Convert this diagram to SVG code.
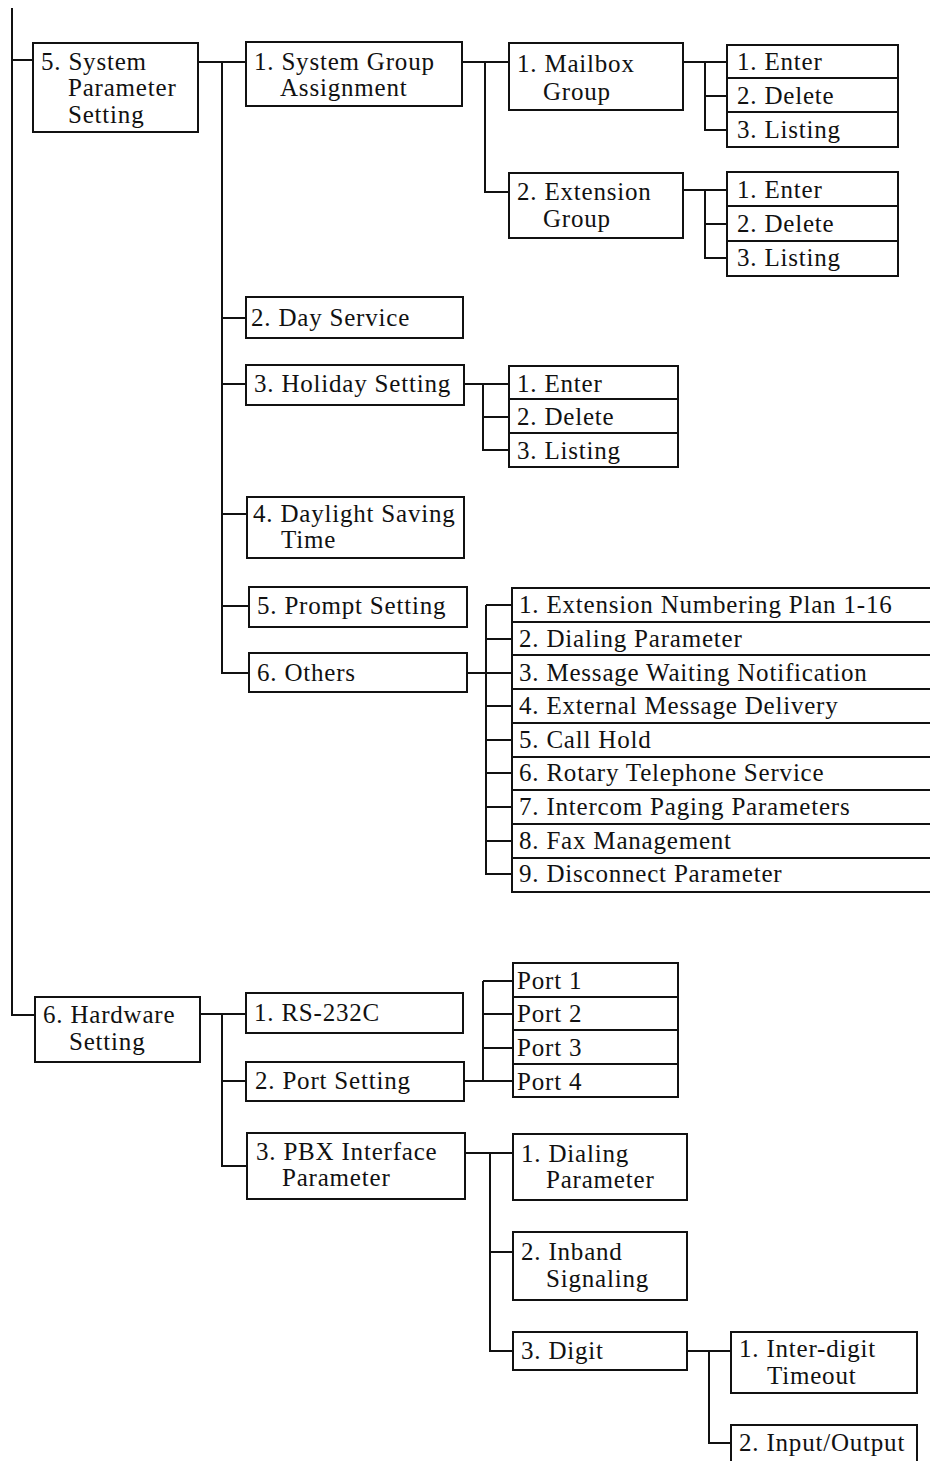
<svg xmlns="http://www.w3.org/2000/svg" width="930" height="1461" viewBox="0 0 930 1461">
<style>
rect{fill:#fff;stroke:#111;stroke-width:2}
text{font-family:"Liberation Serif","Times New Roman",serif;font-size:25px;fill:#111;letter-spacing:0.8px}
#connectors path{fill:none;stroke:#111;stroke-width:2}
</style>
<rect x="0" y="0" width="930" height="1461" style="stroke:none"/>
<g id="connectors">
<path d="M12 8V1015H35M12 60H33"/>
<path d="M198 62H246M222 62V673H249M222 318H246M222 384H246M222 514H247M222 606H249"/>
<path d="M462 62H509M485 62V192H509"/>
<path d="M683 62H727M705 62V130H727M705 96H727"/>
<path d="M683 190H727M705 190V258H727M705 224H727"/>
<path d="M464 384H509M483 384V450H509M483 417H509"/>
<path d="M467 673H512M486 605V874H512M486 605H512M486 639H512M486 706H512M486 740H512M486 773H512M486 807H512M486 841H512"/>
<path d="M200 1014H246M222 1014V1166H247M222 1081H246"/>
<path d="M464 1081H513M483 981V1081M483 981H513M483 1014H513M483 1048H513"/>
<path d="M465 1153H513M490 1153V1351H513M490 1252H513"/>
<path d="M687 1351H731M709 1351V1443H731"/>
</g>
<g id="n5"><rect x="33" y="43" width="165" height="89"/><text x="41" y="70">5. System</text><text x="68" y="96">Parameter</text><text x="68" y="123">Setting</text></g>
<g id="n51"><rect x="246" y="42" width="216" height="64"/><text x="254" y="70">1. System Group</text><text x="280" y="96">Assignment</text></g>
<g id="n511"><rect x="509" y="43" width="174" height="67"/><text x="517" y="72">1. Mailbox</text><text x="543" y="100">Group</text></g>
<g id="n5111"><rect x="727" y="45" width="171" height="33"/><text x="737" y="70">1. Enter</text></g>
<g id="n5112"><rect x="727" y="78" width="171" height="34"/><text x="737" y="104">2. Delete</text></g>
<g id="n5113"><rect x="727" y="112" width="171" height="35"/><text x="737" y="138">3. Listing</text></g>
<g id="n512"><rect x="509" y="173" width="174" height="65"/><text x="517" y="200">2. Extension</text><text x="543" y="227">Group</text></g>
<g id="n5121"><rect x="727" y="172" width="171" height="34"/><text x="737" y="198">1. Enter</text></g>
<g id="n5122"><rect x="727" y="206" width="171" height="35"/><text x="737" y="232">2. Delete</text></g>
<g id="n5123"><rect x="727" y="241" width="171" height="35"/><text x="737" y="266">3. Listing</text></g>
<g id="n52"><rect x="246" y="297" width="217" height="41"/><text x="251" y="326">2. Day Service</text></g>
<g id="n53"><rect x="246" y="365" width="218" height="40"/><text x="254" y="392">3. Holiday Setting</text></g>
<g id="n531"><rect x="509" y="366" width="169" height="33"/><text x="517" y="392">1. Enter</text></g>
<g id="n532"><rect x="509" y="399" width="169" height="34"/><text x="517" y="425">2. Delete</text></g>
<g id="n533"><rect x="509" y="433" width="169" height="34"/><text x="517" y="459">3. Listing</text></g>
<g id="n54"><rect x="247" y="497" width="217" height="61"/><text x="253" y="522">4. Daylight Saving</text><text x="281" y="548">Time</text></g>
<g id="n55"><rect x="249" y="587" width="218" height="40"/><text x="257" y="614">5. Prompt Setting</text></g>
<g id="n56"><rect x="249" y="653" width="218" height="39"/><text x="257" y="681">6. Others</text></g>
<g id="n561"><rect x="512" y="588" width="425" height="34"/><text x="519" y="613">1. Extension Numbering Plan 1-16</text></g>
<g id="n562"><rect x="512" y="622" width="425" height="33"/><text x="519" y="647">2. Dialing Parameter</text></g>
<g id="n563"><rect x="512" y="655" width="425" height="34"/><text x="519" y="681">3. Message Waiting Notification</text></g>
<g id="n564"><rect x="512" y="689" width="425" height="34"/><text x="519" y="714">4. External Message Delivery</text></g>
<g id="n565"><rect x="512" y="723" width="425" height="34"/><text x="519" y="748">5. Call Hold</text></g>
<g id="n566"><rect x="512" y="757" width="425" height="33"/><text x="519" y="781">6. Rotary Telephone Service</text></g>
<g id="n567"><rect x="512" y="790" width="425" height="34"/><text x="519" y="815">7. Intercom Paging Parameters</text></g>
<g id="n568"><rect x="512" y="824" width="425" height="34"/><text x="519" y="849">8. Fax Management</text></g>
<g id="n569"><rect x="512" y="858" width="425" height="34"/><text x="519" y="882">9. Disconnect Parameter</text></g>
<g id="n6"><rect x="35" y="997" width="165" height="65"/><text x="43" y="1023">6. Hardware</text><text x="69" y="1050">Setting</text></g>
<g id="n61"><rect x="246" y="993" width="217" height="40"/><text x="254" y="1021">1. RS-232C</text></g>
<g id="n62"><rect x="246" y="1062" width="218" height="39"/><text x="255" y="1089">2. Port Setting</text></g>
<g id="n621"><rect x="513" y="963" width="165" height="34"/><text x="517" y="989">Port 1</text></g>
<g id="n622"><rect x="513" y="997" width="165" height="33"/><text x="517" y="1022">Port 2</text></g>
<g id="n623"><rect x="513" y="1030" width="165" height="34"/><text x="517" y="1056">Port 3</text></g>
<g id="n624"><rect x="513" y="1064" width="165" height="33"/><text x="517" y="1090">Port 4</text></g>
<g id="n63"><rect x="247" y="1133" width="218" height="66"/><text x="256" y="1160">3. PBX Interface</text><text x="282" y="1186">Parameter</text></g>
<g id="n631"><rect x="513" y="1134" width="174" height="66"/><text x="521" y="1162">1. Dialing</text><text x="546" y="1188">Parameter</text></g>
<g id="n632"><rect x="513" y="1232" width="174" height="68"/><text x="521" y="1260">2. Inband</text><text x="546" y="1287">Signaling</text></g>
<g id="n633"><rect x="513" y="1332" width="174" height="38"/><text x="521" y="1359">3. Digit</text></g>
<g id="n6331"><rect x="731" y="1332" width="186" height="61"/><text x="739" y="1357">1. Inter-digit</text><text x="767" y="1384">Timeout</text></g>
<g id="n6332"><rect x="731" y="1425" width="186" height="50"/><text x="739" y="1451">2. Input/Output</text></g>
</svg>
